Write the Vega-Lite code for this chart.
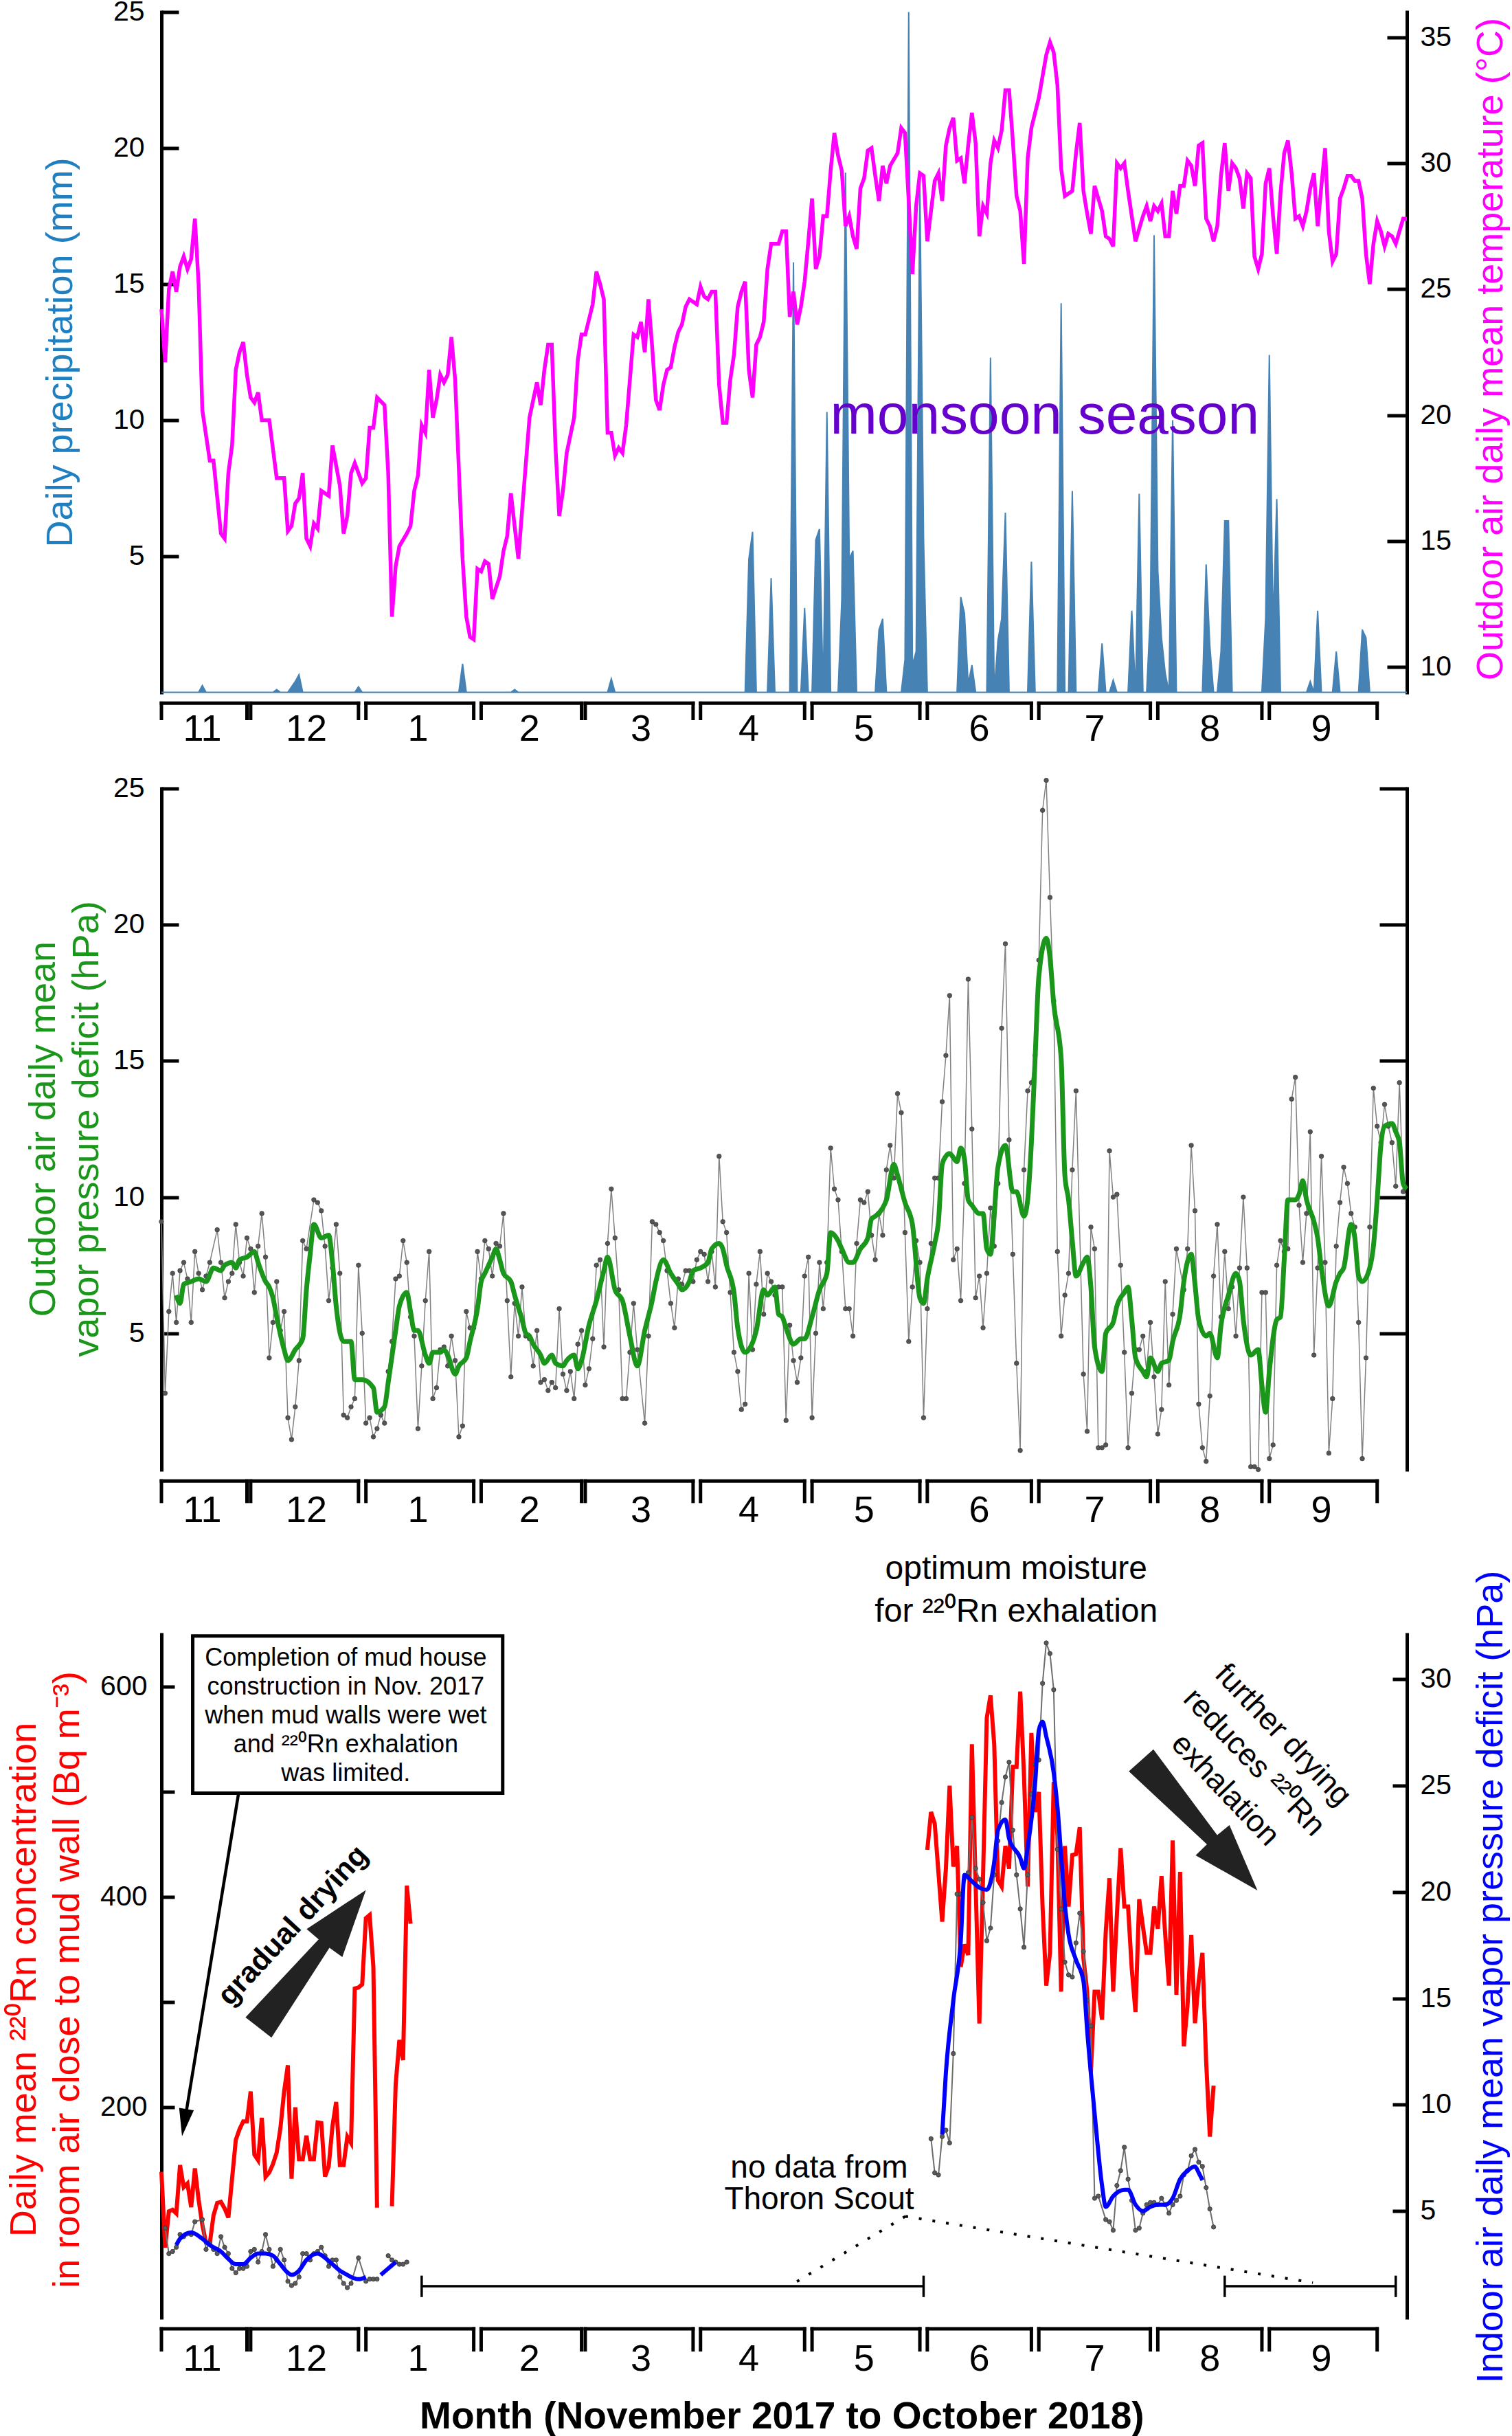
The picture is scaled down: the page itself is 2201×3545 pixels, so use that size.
{
  "$schema": "https://vega.github.io/schema/vega-lite/v6.json",
  "autosize": {"type": "none"},
  "padding": {"left": 235, "top": 17.5, "right": 1966, "bottom": 3527.5},
  "background": "white",
  "usermeta": {"embedOptions": {"actions": false}},
  "config": {
    "font": "Liberation Sans",
    "view": {"stroke": null},
    "axis": {
      "grid": false, "domainColor": "black", "domainWidth": 5, "domainCap": "square",
      "tickColor": "black", "tickWidth": 5,
      "labelFont": "Liberation Sans", "labelFontSize": 41, "labelColor": "black",
      "titleFont": "Liberation Sans", "titleFontSize": 54, "titleFontWeight": "normal"
    }
  },
  "datasets": {
    "months": [
      {"m": "11", "start": "2017-11-07", "end": "2017-11-30", "mid": "2017-11-18"},
      {"m": "12", "start": "2017-12-01", "end": "2017-12-30", "mid": "2017-12-16"},
      {"m": "1", "start": "2018-01-01", "end": "2018-01-30", "mid": "2018-01-15"},
      {"m": "2", "start": "2018-02-01", "end": "2018-02-28", "mid": "2018-02-14"},
      {"m": "3", "start": "2018-03-01", "end": "2018-03-30", "mid": "2018-03-16"},
      {"m": "4", "start": "2018-04-01", "end": "2018-04-29", "mid": "2018-04-14"},
      {"m": "5", "start": "2018-05-01", "end": "2018-05-30", "mid": "2018-05-15"},
      {"m": "6", "start": "2018-06-01", "end": "2018-06-29", "mid": "2018-06-15"},
      {"m": "7", "start": "2018-07-01", "end": "2018-07-31", "mid": "2018-07-16"},
      {"m": "8", "start": "2018-08-02", "end": "2018-08-30", "mid": "2018-08-16"},
      {"m": "9", "start": "2018-09-01", "end": "2018-09-30", "mid": "2018-09-15"}
    ],
    "nodata": [
      {"from": "2018-01-16", "to": "2018-05-31"},
      {"from": "2018-08-20", "to": "2018-10-05"}
    ],
    "precip": [
      {"date":"2017-11-07","precip":0},{"date":"2017-11-17","precip":0},{"date":"2017-11-18","precip":0.25},{"date":"2017-11-19","precip":0},
      {"date":"2017-12-07","precip":0},{"date":"2017-12-08","precip":0.1},{"date":"2017-12-09","precip":0},
      {"date":"2017-12-11","precip":0},{"date":"2017-12-13","precip":0.4},{"date":"2017-12-14","precip":0.65},{"date":"2017-12-15","precip":0},
      {"date":"2017-12-29","precip":0},{"date":"2017-12-30","precip":0.2},{"date":"2017-12-31","precip":0},
      {"date":"2018-01-26","precip":0},{"date":"2018-01-27","precip":1.05},{"date":"2018-01-28","precip":0},
      {"date":"2018-02-09","precip":0},{"date":"2018-02-10","precip":0.1},{"date":"2018-02-11","precip":0},
      {"date":"2018-03-07","precip":0},{"date":"2018-03-08","precip":0.5},{"date":"2018-03-09","precip":0},
      {"date":"2018-04-13","precip":0},{"date":"2018-04-14","precip":4.9},{"date":"2018-04-15","precip":5.9},{"date":"2018-04-16","precip":0},
      {"date":"2018-04-19","precip":0},{"date":"2018-04-20","precip":4.2},{"date":"2018-04-21","precip":0},
      {"date":"2018-04-25","precip":0},{"date":"2018-04-26","precip":15.8},{"date":"2018-04-27","precip":0},
      {"date":"2018-04-28","precip":0},{"date":"2018-04-29","precip":3.1},{"date":"2018-04-30","precip":0},
      {"date":"2018-05-01","precip":0},{"date":"2018-05-02","precip":5.6},{"date":"2018-05-03","precip":6.0},{"date":"2018-05-04","precip":0},
      {"date":"2018-05-05","precip":10.3},{"date":"2018-05-06","precip":0},
      {"date":"2018-05-08","precip":0},{"date":"2018-05-09","precip":3.4},{"date":"2018-05-10","precip":19.1},{"date":"2018-05-11","precip":4.9},{"date":"2018-05-12","precip":5.2},{"date":"2018-05-13","precip":0},
      {"date":"2018-05-18","precip":0},{"date":"2018-05-19","precip":2.3},{"date":"2018-05-20","precip":2.7},{"date":"2018-05-21","precip":0},
      {"date":"2018-05-25","precip":0},{"date":"2018-05-26","precip":1.2},{"date":"2018-05-27","precip":25},{"date":"2018-05-28","precip":1.0},{"date":"2018-05-29","precip":1.5},{"date":"2018-05-30","precip":18.7},{"date":"2018-05-31","precip":5.6},{"date":"2018-06-01","precip":0},
      {"date":"2018-06-09","precip":0},{"date":"2018-06-10","precip":3.5},{"date":"2018-06-11","precip":2.9},{"date":"2018-06-12","precip":0.3},{"date":"2018-06-13","precip":1.0},{"date":"2018-06-14","precip":0},
      {"date":"2018-06-17","precip":0},{"date":"2018-06-18","precip":12.3},{"date":"2018-06-19","precip":0},{"date":"2018-06-20","precip":1.9},{"date":"2018-06-21","precip":2.7},{"date":"2018-06-22","precip":6.6},{"date":"2018-06-23","precip":0},
      {"date":"2018-06-28","precip":0},{"date":"2018-06-29","precip":4.8},{"date":"2018-06-30","precip":0},
      {"date":"2018-07-06","precip":0},{"date":"2018-07-07","precip":14.3},{"date":"2018-07-08","precip":0},{"date":"2018-07-09","precip":0},{"date":"2018-07-10","precip":7.4},{"date":"2018-07-11","precip":0},
      {"date":"2018-07-17","precip":0},{"date":"2018-07-18","precip":1.8},{"date":"2018-07-19","precip":0},
      {"date":"2018-07-20","precip":0},{"date":"2018-07-21","precip":0.45},{"date":"2018-07-22","precip":0},
      {"date":"2018-07-25","precip":0},{"date":"2018-07-26","precip":3.0},{"date":"2018-07-27","precip":0},{"date":"2018-07-28","precip":7.3},{"date":"2018-07-29","precip":0},
      {"date":"2018-07-30","precip":0},{"date":"2018-07-31","precip":2.9},{"date":"2018-08-01","precip":16.8},{"date":"2018-08-02","precip":4.5},{"date":"2018-08-03","precip":2.0},{"date":"2018-08-04","precip":0.7},{"date":"2018-08-05","precip":0},{"date":"2018-08-06","precip":10.0},{"date":"2018-08-07","precip":0},
      {"date":"2018-08-14","precip":0},{"date":"2018-08-15","precip":4.7},{"date":"2018-08-16","precip":1.7},{"date":"2018-08-17","precip":0},
      {"date":"2018-08-18","precip":0},{"date":"2018-08-19","precip":1.5},{"date":"2018-08-20","precip":6.3},{"date":"2018-08-21","precip":6.3},{"date":"2018-08-22","precip":0},
      {"date":"2018-08-30","precip":0},{"date":"2018-08-31","precip":2.7},{"date":"2018-09-01","precip":12.4},{"date":"2018-09-02","precip":2.4},{"date":"2018-09-03","precip":7.1},{"date":"2018-09-04","precip":0},
      {"date":"2018-09-11","precip":0},{"date":"2018-09-12","precip":0.4},{"date":"2018-09-13","precip":0},{"date":"2018-09-14","precip":3.0},{"date":"2018-09-15","precip":0},
      {"date":"2018-09-18","precip":0},{"date":"2018-09-19","precip":1.5},{"date":"2018-09-20","precip":0},
      {"date":"2018-09-25","precip":0},{"date":"2018-09-26","precip":2.3},{"date":"2018-09-27","precip":2.0},{"date":"2018-09-28","precip":0},
      {"date":"2018-10-08","precip":0}
    ],
    "temp": [
      {"date":"2017-11-07","temp":24.2},{"date":"2017-11-08","temp":22.1},{"date":"2017-11-09","temp":25.0},{"date":"2017-11-10","temp":25.7},{"date":"2017-11-11","temp":24.9},{"date":"2017-11-12","temp":25.9},{"date":"2017-11-13","temp":26.3},{"date":"2017-11-14","temp":25.8},{"date":"2017-11-15","temp":26.2},{"date":"2017-11-16","temp":27.8},{"date":"2017-11-17","temp":25.2},{"date":"2017-11-18","temp":20.2},{"date":"2017-11-20","temp":18.2},{"date":"2017-11-21","temp":18.2},{"date":"2017-11-23","temp":15.3},{"date":"2017-11-24","temp":15.1},{"date":"2017-11-25","temp":17.7},{"date":"2017-11-26","temp":18.8},{"date":"2017-11-27","temp":21.8},{"date":"2017-11-28","temp":22.5},{"date":"2017-11-29","temp":22.9},{"date":"2017-11-30","temp":21.6},
      {"date":"2017-12-01","temp":20.7},{"date":"2017-12-02","temp":20.5},{"date":"2017-12-03","temp":20.9},{"date":"2017-12-04","temp":19.8},{"date":"2017-12-06","temp":19.8},{"date":"2017-12-08","temp":17.5},{"date":"2017-12-10","temp":17.5},{"date":"2017-12-11","temp":15.4},{"date":"2017-12-12","temp":15.6},{"date":"2017-12-13","temp":16.5},{"date":"2017-12-14","temp":16.7},{"date":"2017-12-15","temp":17.7},{"date":"2017-12-16","temp":15.1},{"date":"2017-12-17","temp":14.8},{"date":"2017-12-18","temp":15.7},{"date":"2017-12-19","temp":15.5},{"date":"2017-12-20","temp":17.0},{"date":"2017-12-22","temp":16.8},{"date":"2017-12-23","temp":18.8},{"date":"2017-12-25","temp":17.2},{"date":"2017-12-26","temp":15.3},{"date":"2017-12-27","temp":16.0},{"date":"2017-12-28","temp":17.7},{"date":"2017-12-29","temp":18.1},{"date":"2017-12-31","temp":17.3},
      {"date":"2018-01-01","temp":17.5},{"date":"2018-01-02","temp":19.5},{"date":"2018-01-03","temp":19.5},{"date":"2018-01-04","temp":20.7},{"date":"2018-01-06","temp":20.4},{"date":"2018-01-07","temp":17.7},{"date":"2018-01-08","temp":12.0},{"date":"2018-01-09","temp":14.0},{"date":"2018-01-10","temp":14.8},{"date":"2018-01-12","temp":15.3},{"date":"2018-01-13","temp":15.6},{"date":"2018-01-14","temp":17.0},{"date":"2018-01-15","temp":17.6},{"date":"2018-01-16","temp":19.6},{"date":"2018-01-17","temp":19.3},{"date":"2018-01-18","temp":21.8},{"date":"2018-01-19","temp":19.9},{"date":"2018-01-20","temp":20.6},{"date":"2018-01-21","temp":21.6},{"date":"2018-01-22","temp":21.3},{"date":"2018-01-23","temp":21.6},{"date":"2018-01-24","temp":23.1},{"date":"2018-01-25","temp":21.4},{"date":"2018-01-27","temp":14.3},{"date":"2018-01-28","temp":12.0},{"date":"2018-01-29","temp":11.2},{"date":"2018-01-30","temp":11.1},{"date":"2018-01-31","temp":13.9},
      {"date":"2018-02-01","temp":13.8},{"date":"2018-02-02","temp":14.2},{"date":"2018-02-03","temp":14.1},{"date":"2018-02-04","temp":12.7},{"date":"2018-02-06","temp":13.6},{"date":"2018-02-07","temp":14.6},{"date":"2018-02-08","temp":15.2},{"date":"2018-02-09","temp":16.9},{"date":"2018-02-11","temp":14.3},{"date":"2018-02-12","temp":16.2},{"date":"2018-02-14","temp":19.9},{"date":"2018-02-15","temp":20.6},{"date":"2018-02-16","temp":21.3},{"date":"2018-02-17","temp":20.4},{"date":"2018-02-18","temp":21.8},{"date":"2018-02-19","temp":22.8},{"date":"2018-02-20","temp":22.8},{"date":"2018-02-21","temp":18.7},{"date":"2018-02-22","temp":16.0},{"date":"2018-02-23","temp":17.0},{"date":"2018-02-24","temp":18.5},{"date":"2018-02-25","temp":19.2},{"date":"2018-02-26","temp":19.9},{"date":"2018-02-27","temp":22.2},{"date":"2018-02-28","temp":23.2},
      {"date":"2018-03-01","temp":23.2},{"date":"2018-03-03","temp":24.4},{"date":"2018-03-04","temp":25.7},{"date":"2018-03-05","temp":25.2},{"date":"2018-03-06","temp":24.6},{"date":"2018-03-07","temp":19.3},{"date":"2018-03-08","temp":19.3},{"date":"2018-03-09","temp":18.4},{"date":"2018-03-10","temp":18.7},{"date":"2018-03-11","temp":18.5},{"date":"2018-03-12","temp":19.6},{"date":"2018-03-14","temp":23.2},{"date":"2018-03-15","temp":23.1},{"date":"2018-03-16","temp":23.7},{"date":"2018-03-17","temp":22.5},{"date":"2018-03-18","temp":24.6},{"date":"2018-03-19","temp":22.7},{"date":"2018-03-20","temp":20.6},{"date":"2018-03-21","temp":20.2},{"date":"2018-03-22","temp":21.2},{"date":"2018-03-23","temp":21.8},{"date":"2018-03-24","temp":21.9},{"date":"2018-03-25","temp":22.7},{"date":"2018-03-26","temp":23.3},{"date":"2018-03-27","temp":23.6},{"date":"2018-03-28","temp":24.3},{"date":"2018-03-29","temp":24.6},{"date":"2018-03-31","temp":24.4},
      {"date":"2018-04-01","temp":25.1},{"date":"2018-04-02","temp":24.7},{"date":"2018-04-03","temp":24.6},{"date":"2018-04-04","temp":24.9},{"date":"2018-04-05","temp":24.9},{"date":"2018-04-06","temp":21.2},{"date":"2018-04-07","temp":19.7},{"date":"2018-04-08","temp":19.7},{"date":"2018-04-09","temp":21.4},{"date":"2018-04-10","temp":22.4},{"date":"2018-04-11","temp":24.3},{"date":"2018-04-12","temp":24.9},{"date":"2018-04-13","temp":25.3},{"date":"2018-04-14","temp":21.8},{"date":"2018-04-15","temp":20.7},{"date":"2018-04-16","temp":22.8},{"date":"2018-04-17","temp":23.1},{"date":"2018-04-18","temp":23.7},{"date":"2018-04-19","temp":25.8},{"date":"2018-04-20","temp":26.8},{"date":"2018-04-22","temp":26.8},{"date":"2018-04-23","temp":27.3},{"date":"2018-04-24","temp":27.3},{"date":"2018-04-25","temp":23.9},{"date":"2018-04-26","temp":24.9},{"date":"2018-04-27","temp":23.6},{"date":"2018-04-28","temp":24.3},{"date":"2018-04-29","temp":25.3},{"date":"2018-04-30","temp":26.9},
      {"date":"2018-05-01","temp":28.6},{"date":"2018-05-02","temp":25.8},{"date":"2018-05-03","temp":26.3},{"date":"2018-05-04","temp":27.9},{"date":"2018-05-05","temp":27.9},{"date":"2018-05-06","temp":29.7},{"date":"2018-05-07","temp":31.2},{"date":"2018-05-08","temp":30.3},{"date":"2018-05-09","temp":29.7},{"date":"2018-05-10","temp":27.5},{"date":"2018-05-11","temp":27.9},{"date":"2018-05-12","temp":27.1},{"date":"2018-05-13","temp":26.6},{"date":"2018-05-14","temp":29.0},{"date":"2018-05-15","temp":29.4},{"date":"2018-05-16","temp":30.5},{"date":"2018-05-17","temp":30.6},{"date":"2018-05-18","temp":29.5},{"date":"2018-05-19","temp":28.5},{"date":"2018-05-20","temp":29.9},{"date":"2018-05-21","temp":29.2},{"date":"2018-05-22","temp":29.9},{"date":"2018-05-24","temp":30.4},{"date":"2018-05-25","temp":31.4},{"date":"2018-05-26","temp":31.2},{"date":"2018-05-27","temp":28.5},{"date":"2018-05-28","temp":25.6},{"date":"2018-05-29","temp":28.3},{"date":"2018-05-30","temp":29.6},{"date":"2018-05-31","temp":29.5},
      {"date":"2018-06-01","temp":26.9},{"date":"2018-06-02","temp":28.1},{"date":"2018-06-03","temp":29.3},{"date":"2018-06-04","temp":29.6},{"date":"2018-06-05","temp":28.5},{"date":"2018-06-06","temp":30.7},{"date":"2018-06-07","temp":31.4},{"date":"2018-06-08","temp":31.8},{"date":"2018-06-09","temp":30.1},{"date":"2018-06-10","temp":30.2},{"date":"2018-06-11","temp":29.2},{"date":"2018-06-12","temp":30.7},{"date":"2018-06-13","temp":32.0},{"date":"2018-06-14","temp":30.8},{"date":"2018-06-15","temp":27.1},{"date":"2018-06-16","temp":28.3},{"date":"2018-06-17","temp":28.0},{"date":"2018-06-18","temp":30.0},{"date":"2018-06-19","temp":30.9},{"date":"2018-06-20","temp":30.6},{"date":"2018-06-21","temp":31.3},{"date":"2018-06-22","temp":32.9},{"date":"2018-06-23","temp":32.9},{"date":"2018-06-24","temp":30.9},{"date":"2018-06-25","temp":28.7},{"date":"2018-06-26","temp":28.1},{"date":"2018-06-27","temp":26.0},{"date":"2018-06-28","temp":30.2},{"date":"2018-06-29","temp":31.4},
      {"date":"2018-07-01","temp":32.6},{"date":"2018-07-03","temp":34.3},{"date":"2018-07-04","temp":34.8},{"date":"2018-07-05","temp":34.4},{"date":"2018-07-06","temp":33.1},{"date":"2018-07-07","temp":29.8},{"date":"2018-07-08","temp":28.7},{"date":"2018-07-10","temp":28.9},{"date":"2018-07-11","temp":30.4},{"date":"2018-07-12","temp":31.6},{"date":"2018-07-13","temp":28.9},{"date":"2018-07-14","temp":28.0},{"date":"2018-07-15","temp":27.2},{"date":"2018-07-16","temp":29.1},{"date":"2018-07-17","temp":28.6},{"date":"2018-07-18","temp":28.1},{"date":"2018-07-19","temp":27.1},{"date":"2018-07-20","temp":27.0},{"date":"2018-07-21","temp":26.7},{"date":"2018-07-22","temp":30.0},{"date":"2018-07-23","temp":29.8},{"date":"2018-07-24","temp":30.0},{"date":"2018-07-25","temp":28.9},{"date":"2018-07-26","temp":27.9},{"date":"2018-07-27","temp":26.9},{"date":"2018-07-28","temp":27.4},{"date":"2018-07-29","temp":27.9},{"date":"2018-07-30","temp":28.3},{"date":"2018-07-31","temp":27.7},
      {"date":"2018-08-01","temp":28.3},{"date":"2018-08-02","temp":28.1},{"date":"2018-08-03","temp":28.4},{"date":"2018-08-04","temp":27.1},{"date":"2018-08-05","temp":27.1},{"date":"2018-08-06","temp":28.9},{"date":"2018-08-07","temp":28.0},{"date":"2018-08-08","temp":29.1},{"date":"2018-08-09","temp":29.1},{"date":"2018-08-10","temp":30.1},{"date":"2018-08-11","temp":29.9},{"date":"2018-08-12","temp":29.1},{"date":"2018-08-13","temp":30.7},{"date":"2018-08-14","temp":30.8},{"date":"2018-08-15","temp":27.8},{"date":"2018-08-16","temp":27.5},{"date":"2018-08-17","temp":26.9},{"date":"2018-08-18","temp":27.5},{"date":"2018-08-19","temp":29.5},{"date":"2018-08-20","temp":30.8},{"date":"2018-08-21","temp":28.9},{"date":"2018-08-22","temp":30.0},{"date":"2018-08-23","temp":29.8},{"date":"2018-08-24","temp":29.4},{"date":"2018-08-25","temp":28.2},{"date":"2018-08-26","temp":29.6},{"date":"2018-08-27","temp":29.4},{"date":"2018-08-28","temp":26.3},{"date":"2018-08-29","temp":25.8},{"date":"2018-08-30","temp":26.4},{"date":"2018-08-31","temp":29.2},
      {"date":"2018-09-01","temp":29.8},{"date":"2018-09-02","temp":27.9},{"date":"2018-09-03","temp":26.4},{"date":"2018-09-04","temp":28.8},{"date":"2018-09-05","temp":30.4},{"date":"2018-09-06","temp":30.9},{"date":"2018-09-07","temp":29.6},{"date":"2018-09-08","temp":27.8},{"date":"2018-09-09","temp":27.9},{"date":"2018-09-10","temp":27.5},{"date":"2018-09-11","temp":28.1},{"date":"2018-09-12","temp":29.0},{"date":"2018-09-13","temp":29.6},{"date":"2018-09-14","temp":27.5},{"date":"2018-09-15","temp":29.1},{"date":"2018-09-16","temp":30.6},{"date":"2018-09-17","temp":27.3},{"date":"2018-09-18","temp":26.1},{"date":"2018-09-19","temp":26.4},{"date":"2018-09-20","temp":28.6},{"date":"2018-09-21","temp":29.0},{"date":"2018-09-22","temp":29.5},{"date":"2018-09-23","temp":29.5},{"date":"2018-09-24","temp":29.3},{"date":"2018-09-25","temp":29.3},{"date":"2018-09-26","temp":28.6},{"date":"2018-09-27","temp":26.4},{"date":"2018-09-28","temp":25.2},{"date":"2018-09-29","temp":26.8},{"date":"2018-09-30","temp":27.7},
      {"date":"2018-10-01","temp":27.3},{"date":"2018-10-02","temp":26.7},{"date":"2018-10-03","temp":27.2},{"date":"2018-10-04","temp":27.1},{"date":"2018-10-05","temp":26.8},{"date":"2018-10-06","temp":27.3},{"date":"2018-10-07","temp":27.8},{"date":"2018-10-08","temp":27.8}
    ],
    "vpdOut": [
      {"date":"2017-11-07","vpd":9.1},{"date":"2017-11-08","vpd":2.8},{"date":"2017-11-09","vpd":5.8},{"date":"2017-11-10","vpd":7.2},{"date":"2017-11-11","vpd":5.4},{"date":"2017-11-12","vpd":7.3},{"date":"2017-11-13","vpd":7.6},{"date":"2017-11-14","vpd":7.0},{"date":"2017-11-15","vpd":5.4},{"date":"2017-11-16","vpd":8.0},{"date":"2017-11-17","vpd":7.2},{"date":"2017-11-18","vpd":6.6},{"date":"2017-11-19","vpd":7.1},{"date":"2017-11-20","vpd":7.6},{"date":"2017-11-22","vpd":8.8},{"date":"2017-11-23","vpd":7.6},{"date":"2017-11-24","vpd":6.3},{"date":"2017-11-25","vpd":6.9},{"date":"2017-11-26","vpd":7.2},{"date":"2017-11-27","vpd":9.0},{"date":"2017-11-28","vpd":7.6},{"date":"2017-11-29","vpd":7.1},{"date":"2017-11-30","vpd":8.5},
      {"date":"2017-12-01","vpd":8.1},{"date":"2017-12-02","vpd":6.5},{"date":"2017-12-03","vpd":8.2},{"date":"2017-12-04","vpd":9.4},{"date":"2017-12-05","vpd":7.8},{"date":"2017-12-06","vpd":4.1},{"date":"2017-12-07","vpd":5.4},{"date":"2017-12-08","vpd":6.9},{"date":"2017-12-09","vpd":5.1},{"date":"2017-12-10","vpd":5.8},{"date":"2017-12-11","vpd":1.9},{"date":"2017-12-12","vpd":1.1},{"date":"2017-12-13","vpd":2.3},{"date":"2017-12-14","vpd":4.0},{"date":"2017-12-15","vpd":8.4},{"date":"2017-12-16","vpd":8.1},{"date":"2017-12-18","vpd":9.9},{"date":"2017-12-19","vpd":9.8},{"date":"2017-12-20","vpd":9.5},{"date":"2017-12-21","vpd":8.2},{"date":"2017-12-22","vpd":6.2},{"date":"2017-12-23","vpd":7.4},{"date":"2017-12-24","vpd":9.0},{"date":"2017-12-25","vpd":7.2},{"date":"2017-12-26","vpd":2.0},{"date":"2017-12-27","vpd":1.9},{"date":"2017-12-28","vpd":2.3},{"date":"2017-12-29","vpd":2.6},{"date":"2017-12-30","vpd":7.5},{"date":"2017-12-31","vpd":5.0},
      {"date":"2018-01-01","vpd":1.7},{"date":"2018-01-02","vpd":1.9},{"date":"2018-01-03","vpd":1.2},{"date":"2018-01-04","vpd":1.5},{"date":"2018-01-05","vpd":2.0},{"date":"2018-01-06","vpd":1.7},{"date":"2018-01-07","vpd":3.6},{"date":"2018-01-08","vpd":4.7},{"date":"2018-01-09","vpd":7.0},{"date":"2018-01-10","vpd":7.1},{"date":"2018-01-11","vpd":8.4},{"date":"2018-01-12","vpd":7.6},{"date":"2018-01-13","vpd":5.6},{"date":"2018-01-14","vpd":4.9},{"date":"2018-01-15","vpd":1.5},{"date":"2018-01-16","vpd":3.8},{"date":"2018-01-17","vpd":6.2},{"date":"2018-01-18","vpd":8.0},{"date":"2018-01-19","vpd":2.6},{"date":"2018-01-20","vpd":3.0},{"date":"2018-01-21","vpd":4.4},{"date":"2018-01-22","vpd":4.5},{"date":"2018-01-23","vpd":3.8},{"date":"2018-01-24","vpd":4.9},{"date":"2018-01-25","vpd":4.0},{"date":"2018-01-26","vpd":1.2},{"date":"2018-01-27","vpd":1.6},{"date":"2018-01-28","vpd":5.8},{"date":"2018-01-29","vpd":5.2},{"date":"2018-01-30","vpd":5.2},{"date":"2018-01-31","vpd":8.0},
      {"date":"2018-02-01","vpd":7.0},{"date":"2018-02-02","vpd":8.4},{"date":"2018-02-03","vpd":8.1},{"date":"2018-02-04","vpd":7.1},{"date":"2018-02-05","vpd":8.3},{"date":"2018-02-06","vpd":8.2},{"date":"2018-02-07","vpd":9.4},{"date":"2018-02-08","vpd":6.2},{"date":"2018-02-09","vpd":3.4},{"date":"2018-02-10","vpd":6.1},{"date":"2018-02-11","vpd":4.9},{"date":"2018-02-12","vpd":6.7},{"date":"2018-02-13","vpd":4.9},{"date":"2018-02-14","vpd":4.8},{"date":"2018-02-15","vpd":3.8},{"date":"2018-02-16","vpd":5.1},{"date":"2018-02-17","vpd":3.2},{"date":"2018-02-18","vpd":3.3},{"date":"2018-02-19","vpd":2.9},{"date":"2018-02-20","vpd":3.2},{"date":"2018-02-21","vpd":3.0},{"date":"2018-02-22","vpd":5.9},{"date":"2018-02-23","vpd":3.5},{"date":"2018-02-24","vpd":2.9},{"date":"2018-02-25","vpd":3.6},{"date":"2018-02-26","vpd":2.6},{"date":"2018-02-27","vpd":4.6},{"date":"2018-02-28","vpd":5.1},
      {"date":"2018-03-01","vpd":3.1},{"date":"2018-03-02","vpd":3.7},{"date":"2018-03-03","vpd":4.8},{"date":"2018-03-04","vpd":7.5},{"date":"2018-03-05","vpd":7.7},{"date":"2018-03-06","vpd":4.5},{"date":"2018-03-07","vpd":8.3},{"date":"2018-03-08","vpd":10.3},{"date":"2018-03-09","vpd":8.5},{"date":"2018-03-10","vpd":6.6},{"date":"2018-03-11","vpd":2.6},{"date":"2018-03-12","vpd":2.6},{"date":"2018-03-13","vpd":4.3},{"date":"2018-03-14","vpd":6.1},{"date":"2018-03-15","vpd":4.4},{"date":"2018-03-17","vpd":1.7},{"date":"2018-03-18","vpd":4.9},{"date":"2018-03-19","vpd":9.1},{"date":"2018-03-20","vpd":9.0},{"date":"2018-03-21","vpd":8.7},{"date":"2018-03-22","vpd":8.4},{"date":"2018-03-23","vpd":7.3},{"date":"2018-03-24","vpd":6.1},{"date":"2018-03-25","vpd":5.2},{"date":"2018-03-26","vpd":7.0},{"date":"2018-03-27","vpd":6.8},{"date":"2018-03-28","vpd":7.3},{"date":"2018-03-29","vpd":7.3},{"date":"2018-03-30","vpd":6.9},{"date":"2018-03-31","vpd":7.7},
      {"date":"2018-04-01","vpd":8.0},{"date":"2018-04-02","vpd":7.9},{"date":"2018-04-03","vpd":6.9},{"date":"2018-04-04","vpd":8.0},{"date":"2018-04-05","vpd":6.7},{"date":"2018-04-06","vpd":11.5},{"date":"2018-04-07","vpd":9.1},{"date":"2018-04-08","vpd":8.7},{"date":"2018-04-09","vpd":6.5},{"date":"2018-04-10","vpd":4.3},{"date":"2018-04-11","vpd":3.6},{"date":"2018-04-12","vpd":2.2},{"date":"2018-04-13","vpd":2.4},{"date":"2018-04-14","vpd":7.2},{"date":"2018-04-15","vpd":4.4},{"date":"2018-04-16","vpd":6.8},{"date":"2018-04-17","vpd":8.0},{"date":"2018-04-18","vpd":5.7},{"date":"2018-04-19","vpd":7.2},{"date":"2018-04-20","vpd":6.9},{"date":"2018-04-21","vpd":6.4},{"date":"2018-04-22","vpd":6.7},{"date":"2018-04-23","vpd":6.7},{"date":"2018-04-24","vpd":1.8},{"date":"2018-04-25","vpd":5.3},{"date":"2018-04-26","vpd":4.0},{"date":"2018-04-27","vpd":3.2},{"date":"2018-04-28","vpd":4.1},{"date":"2018-04-29","vpd":7.1},{"date":"2018-04-30","vpd":7.8},
      {"date":"2018-05-01","vpd":1.9},{"date":"2018-05-02","vpd":5.0},{"date":"2018-05-03","vpd":7.6},{"date":"2018-05-04","vpd":5.9},{"date":"2018-05-05","vpd":7.6},{"date":"2018-05-06","vpd":11.8},{"date":"2018-05-07","vpd":10.3},{"date":"2018-05-08","vpd":9.9},{"date":"2018-05-09","vpd":8.0},{"date":"2018-05-10","vpd":5.9},{"date":"2018-05-11","vpd":5.9},{"date":"2018-05-12","vpd":4.9},{"date":"2018-05-13","vpd":8.3},{"date":"2018-05-14","vpd":9.9},{"date":"2018-05-15","vpd":9.8},{"date":"2018-05-16","vpd":10.2},{"date":"2018-05-17","vpd":8.6},{"date":"2018-05-18","vpd":7.7},{"date":"2018-05-19","vpd":9.4},{"date":"2018-05-20","vpd":8.6},{"date":"2018-05-21","vpd":11.0},{"date":"2018-05-22","vpd":11.9},{"date":"2018-05-23","vpd":10.7},{"date":"2018-05-24","vpd":13.8},{"date":"2018-05-25","vpd":13.1},{"date":"2018-05-26","vpd":8.7},{"date":"2018-05-27","vpd":4.7},{"date":"2018-05-28","vpd":6.7},{"date":"2018-05-29","vpd":8.4},{"date":"2018-05-30","vpd":7.6},{"date":"2018-05-31","vpd":1.9},
      {"date":"2018-06-01","vpd":5.9},{"date":"2018-06-02","vpd":8.3},{"date":"2018-06-03","vpd":10.7},{"date":"2018-06-04","vpd":10.7},{"date":"2018-06-05","vpd":13.5},{"date":"2018-06-06","vpd":15.2},{"date":"2018-06-07","vpd":17.4},{"date":"2018-06-08","vpd":7.7},{"date":"2018-06-09","vpd":8.1},{"date":"2018-06-10","vpd":6.2},{"date":"2018-06-11","vpd":10.5},{"date":"2018-06-12","vpd":18.0},{"date":"2018-06-13","vpd":12.5},{"date":"2018-06-14","vpd":6.3},{"date":"2018-06-15","vpd":7.1},{"date":"2018-06-16","vpd":5.2},{"date":"2018-06-17","vpd":7.2},{"date":"2018-06-18","vpd":9.6},{"date":"2018-06-19","vpd":8.2},{"date":"2018-06-20","vpd":10.5},{"date":"2018-06-21","vpd":16.2},{"date":"2018-06-22","vpd":19.3},{"date":"2018-06-23","vpd":12.1},{"date":"2018-06-24","vpd":7.9},{"date":"2018-06-25","vpd":3.9},{"date":"2018-06-26","vpd":0.7},{"date":"2018-06-27","vpd":11.0},{"date":"2018-06-28","vpd":13.9},{"date":"2018-06-29","vpd":14.2},{"date":"2018-06-30","vpd":15.2},
      {"date":"2018-07-01","vpd":18.7},{"date":"2018-07-02","vpd":24.2},{"date":"2018-07-03","vpd":25.3},{"date":"2018-07-04","vpd":21.0},{"date":"2018-07-05","vpd":17.2},{"date":"2018-07-06","vpd":8.0},{"date":"2018-07-07","vpd":4.9},{"date":"2018-07-08","vpd":6.4},{"date":"2018-07-09","vpd":7.2},{"date":"2018-07-10","vpd":11.0},{"date":"2018-07-11","vpd":13.9},{"date":"2018-07-13","vpd":3.5},{"date":"2018-07-14","vpd":1.4},{"date":"2018-07-15","vpd":8.9},{"date":"2018-07-16","vpd":8.1},{"date":"2018-07-17","vpd":0.8},{"date":"2018-07-18","vpd":0.8},{"date":"2018-07-19","vpd":0.9},{"date":"2018-07-20","vpd":11.7},{"date":"2018-07-21","vpd":10.0},{"date":"2018-07-22","vpd":10.1},{"date":"2018-07-23","vpd":7.5},{"date":"2018-07-24","vpd":4.3},{"date":"2018-07-25","vpd":0.8},{"date":"2018-07-26","vpd":2.8},{"date":"2018-07-27","vpd":4.4},{"date":"2018-07-28","vpd":4.4},{"date":"2018-07-29","vpd":4.9},{"date":"2018-07-30","vpd":3.6},{"date":"2018-07-31","vpd":5.4},
      {"date":"2018-08-01","vpd":3.4},{"date":"2018-08-02","vpd":1.3},{"date":"2018-08-03","vpd":2.2},{"date":"2018-08-04","vpd":6.9},{"date":"2018-08-05","vpd":3.1},{"date":"2018-08-06","vpd":5.7},{"date":"2018-08-07","vpd":8.1},{"date":"2018-08-09","vpd":6.6},{"date":"2018-08-10","vpd":8.1},{"date":"2018-08-11","vpd":11.9},{"date":"2018-08-12","vpd":9.5},{"date":"2018-08-13","vpd":2.4},{"date":"2018-08-14","vpd":0.8},{"date":"2018-08-15","vpd":0.3},{"date":"2018-08-16","vpd":2.7},{"date":"2018-08-17","vpd":7.1},{"date":"2018-08-18","vpd":9.0},{"date":"2018-08-19","vpd":5.6},{"date":"2018-08-20","vpd":8.0},{"date":"2018-08-21","vpd":5.9},{"date":"2018-08-22","vpd":6.7},{"date":"2018-08-23","vpd":4.9},{"date":"2018-08-24","vpd":7.4},{"date":"2018-08-25","vpd":10.0},{"date":"2018-08-26","vpd":7.4},{"date":"2018-08-27","vpd":0.1},{"date":"2018-08-28","vpd":0.1},{"date":"2018-08-29","vpd":0.0},{"date":"2018-08-30","vpd":6.5},{"date":"2018-08-31","vpd":6.5},
      {"date":"2018-09-01","vpd":0.4},{"date":"2018-09-02","vpd":0.9},{"date":"2018-09-03","vpd":7.5},{"date":"2018-09-04","vpd":8.4},{"date":"2018-09-05","vpd":8.0},{"date":"2018-09-06","vpd":8.1},{"date":"2018-09-07","vpd":13.6},{"date":"2018-09-08","vpd":14.4},{"date":"2018-09-09","vpd":9.7},{"date":"2018-09-10","vpd":7.6},{"date":"2018-09-11","vpd":9.4},{"date":"2018-09-12","vpd":12.4},{"date":"2018-09-13","vpd":4.2},{"date":"2018-09-14","vpd":7.4},{"date":"2018-09-15","vpd":11.5},{"date":"2018-09-16","vpd":7.6},{"date":"2018-09-17","vpd":0.6},{"date":"2018-09-18","vpd":2.6},{"date":"2018-09-19","vpd":8.2},{"date":"2018-09-20","vpd":9.8},{"date":"2018-09-21","vpd":11.1},{"date":"2018-09-22","vpd":10.5},{"date":"2018-09-23","vpd":9.4},{"date":"2018-09-24","vpd":8.9},{"date":"2018-09-25","vpd":5.4},{"date":"2018-09-26","vpd":0.4},{"date":"2018-09-27","vpd":4.1},{"date":"2018-09-28","vpd":8.9},{"date":"2018-09-29","vpd":14.0},{"date":"2018-09-30","vpd":12.6},
      {"date":"2018-10-01","vpd":12.0},{"date":"2018-10-02","vpd":13.4},{"date":"2018-10-03","vpd":12.6},{"date":"2018-10-04","vpd":12.0},{"date":"2018-10-05","vpd":10.4},{"date":"2018-10-06","vpd":14.2},{"date":"2018-10-07","vpd":10.2}
    ],
    "vpdOutSmooth": [
      {"date":"2017-11-11","vpd":6.4},{"date":"2017-11-12","vpd":6.1},{"date":"2017-11-13","vpd":6.8},{"date":"2017-11-15","vpd":6.9},{"date":"2017-11-17","vpd":7.0},{"date":"2017-11-19","vpd":6.9},{"date":"2017-11-21","vpd":7.4},{"date":"2017-11-23","vpd":7.3},{"date":"2017-11-24","vpd":7.5},{"date":"2017-11-26","vpd":7.6},{"date":"2017-11-27","vpd":7.4},{"date":"2017-11-28","vpd":7.7},{"date":"2017-11-30","vpd":7.8},
      {"date":"2017-12-02","vpd":8.0},{"date":"2017-12-03","vpd":7.6},{"date":"2017-12-05","vpd":6.9},{"date":"2017-12-06","vpd":6.7},{"date":"2017-12-07","vpd":6.3},{"date":"2017-12-08","vpd":5.6},{"date":"2017-12-10","vpd":4.4},{"date":"2017-12-11","vpd":4.0},{"date":"2017-12-13","vpd":4.4},{"date":"2017-12-15","vpd":4.8},{"date":"2017-12-16","vpd":6.6},{"date":"2017-12-17","vpd":7.9},{"date":"2017-12-18","vpd":9.0},{"date":"2017-12-20","vpd":8.5},{"date":"2017-12-22","vpd":8.6},{"date":"2017-12-23","vpd":7.6},{"date":"2017-12-24","vpd":6.0},{"date":"2017-12-26","vpd":4.7},{"date":"2017-12-28","vpd":4.7},{"date":"2017-12-29","vpd":3.3},{"date":"2017-12-31","vpd":3.3},
      {"date":"2018-01-03","vpd":3.0},{"date":"2018-01-04","vpd":2.1},{"date":"2018-01-06","vpd":2.3},{"date":"2018-01-07","vpd":3.2},{"date":"2018-01-09","vpd":5.1},{"date":"2018-01-10","vpd":6.0},{"date":"2018-01-12","vpd":6.5},{"date":"2018-01-13","vpd":5.8},{"date":"2018-01-14","vpd":5.1},{"date":"2018-01-15","vpd":5.1},{"date":"2018-01-17","vpd":4.2},{"date":"2018-01-18","vpd":3.9},{"date":"2018-01-19","vpd":4.3},{"date":"2018-01-21","vpd":4.3},{"date":"2018-01-22","vpd":4.4},{"date":"2018-01-23","vpd":4.2},{"date":"2018-01-25","vpd":3.5},{"date":"2018-01-26","vpd":3.8},{"date":"2018-01-28","vpd":4.1},{"date":"2018-01-29","vpd":4.7},{"date":"2018-01-31","vpd":5.9},
      {"date":"2018-02-01","vpd":6.9},{"date":"2018-02-02","vpd":7.2},{"date":"2018-02-04","vpd":7.8},{"date":"2018-02-05","vpd":8.1},{"date":"2018-02-06","vpd":7.7},{"date":"2018-02-07","vpd":7.2},{"date":"2018-02-09","vpd":6.9},{"date":"2018-02-10","vpd":6.4},{"date":"2018-02-12","vpd":5.5},{"date":"2018-02-13","vpd":5.0},{"date":"2018-02-14","vpd":4.9},{"date":"2018-02-15","vpd":4.6},{"date":"2018-02-17","vpd":4.2},{"date":"2018-02-18","vpd":3.9},{"date":"2018-02-20","vpd":4.2},{"date":"2018-02-21","vpd":3.9},{"date":"2018-02-23","vpd":3.8},{"date":"2018-02-24","vpd":4.0},{"date":"2018-02-26","vpd":4.2},{"date":"2018-02-27","vpd":3.7},{"date":"2018-02-28","vpd":4.0},
      {"date":"2018-03-02","vpd":5.3},{"date":"2018-03-04","vpd":6.2},{"date":"2018-03-06","vpd":7.3},{"date":"2018-03-07","vpd":7.8},{"date":"2018-03-09","vpd":6.6},{"date":"2018-03-11","vpd":6.2},{"date":"2018-03-13","vpd":4.9},{"date":"2018-03-15","vpd":3.8},{"date":"2018-03-17","vpd":5.1},{"date":"2018-03-19","vpd":6.2},{"date":"2018-03-20","vpd":6.9},{"date":"2018-03-22","vpd":7.7},{"date":"2018-03-24","vpd":7.2},{"date":"2018-03-26","vpd":6.8},{"date":"2018-03-27","vpd":6.6},{"date":"2018-03-29","vpd":6.9},{"date":"2018-03-30","vpd":7.3},
      {"date":"2018-04-01","vpd":7.4},{"date":"2018-04-03","vpd":7.6},{"date":"2018-04-04","vpd":8.1},{"date":"2018-04-06","vpd":8.3},{"date":"2018-04-07","vpd":8.1},{"date":"2018-04-08","vpd":7.5},{"date":"2018-04-10","vpd":6.5},{"date":"2018-04-11","vpd":5.2},{"date":"2018-04-13","vpd":4.3},{"date":"2018-04-14","vpd":4.4},{"date":"2018-04-16","vpd":5.1},{"date":"2018-04-18","vpd":6.6},{"date":"2018-04-19","vpd":6.4},{"date":"2018-04-21","vpd":6.7},{"date":"2018-04-22","vpd":5.7},{"date":"2018-04-23","vpd":5.6},{"date":"2018-04-24","vpd":5.2},{"date":"2018-04-26","vpd":4.6},{"date":"2018-04-28","vpd":4.8},{"date":"2018-04-29","vpd":4.8},
      {"date":"2018-05-01","vpd":5.6},{"date":"2018-05-03","vpd":6.6},{"date":"2018-05-05","vpd":7.2},{"date":"2018-05-06","vpd":8.7},{"date":"2018-05-08","vpd":8.4},{"date":"2018-05-09","vpd":8.1},{"date":"2018-05-11","vpd":7.6},{"date":"2018-05-12","vpd":7.6},{"date":"2018-05-14","vpd":8.1},{"date":"2018-05-16","vpd":8.5},{"date":"2018-05-17","vpd":9.2},{"date":"2018-05-18","vpd":9.3},{"date":"2018-05-20","vpd":9.6},{"date":"2018-05-21","vpd":9.9},{"date":"2018-05-23","vpd":11.2},{"date":"2018-05-24","vpd":10.8},{"date":"2018-05-26","vpd":9.8},{"date":"2018-05-28","vpd":9.0},{"date":"2018-05-30","vpd":6.3},{"date":"2018-05-31","vpd":6.1},
      {"date":"2018-06-01","vpd":7.0},{"date":"2018-06-03","vpd":8.3},{"date":"2018-06-04","vpd":9.1},{"date":"2018-06-05","vpd":11.2},{"date":"2018-06-06","vpd":11.5},{"date":"2018-06-07","vpd":11.6},{"date":"2018-06-09","vpd":11.3},{"date":"2018-06-10","vpd":11.8},{"date":"2018-06-11","vpd":11.4},{"date":"2018-06-12","vpd":9.9},{"date":"2018-06-13","vpd":9.7},{"date":"2018-06-15","vpd":9.4},{"date":"2018-06-16","vpd":9.4},{"date":"2018-06-17","vpd":8.1},{"date":"2018-06-18","vpd":7.9},{"date":"2018-06-19","vpd":9.4},{"date":"2018-06-20","vpd":11.1},{"date":"2018-06-22","vpd":11.9},{"date":"2018-06-24","vpd":10.2},{"date":"2018-06-25","vpd":10.2},{"date":"2018-06-27","vpd":9.3},{"date":"2018-06-28","vpd":9.9},{"date":"2018-06-29","vpd":12.0},{"date":"2018-06-30","vpd":15.1},
      {"date":"2018-07-01","vpd":18.1},{"date":"2018-07-03","vpd":19.5},{"date":"2018-07-04","vpd":18.8},{"date":"2018-07-05","vpd":17.1},{"date":"2018-07-07","vpd":15.1},{"date":"2018-07-08","vpd":10.8},{"date":"2018-07-09","vpd":9.9},{"date":"2018-07-10","vpd":8.4},{"date":"2018-07-11","vpd":7.1},{"date":"2018-07-13","vpd":7.6},{"date":"2018-07-14","vpd":7.8},{"date":"2018-07-15","vpd":6.7},{"date":"2018-07-16","vpd":4.5},{"date":"2018-07-18","vpd":3.6},{"date":"2018-07-19","vpd":5.0},{"date":"2018-07-21","vpd":5.4},{"date":"2018-07-22","vpd":6.0},{"date":"2018-07-24","vpd":6.5},{"date":"2018-07-25","vpd":6.7},{"date":"2018-07-26","vpd":5.5},{"date":"2018-07-27","vpd":4.1},{"date":"2018-07-29","vpd":3.6},{"date":"2018-07-30","vpd":3.4},{"date":"2018-07-31","vpd":4.1},
      {"date":"2018-08-02","vpd":3.6},{"date":"2018-08-03","vpd":3.9},{"date":"2018-08-05","vpd":4.0},{"date":"2018-08-06","vpd":4.7},{"date":"2018-08-08","vpd":5.7},{"date":"2018-08-09","vpd":6.9},{"date":"2018-08-11","vpd":7.9},{"date":"2018-08-12","vpd":6.8},{"date":"2018-08-13","vpd":5.5},{"date":"2018-08-15","vpd":4.9},{"date":"2018-08-16","vpd":5.0},{"date":"2018-08-18","vpd":4.1},{"date":"2018-08-19","vpd":5.3},{"date":"2018-08-21","vpd":6.4},{"date":"2018-08-23","vpd":7.2},{"date":"2018-08-24","vpd":6.9},{"date":"2018-08-25","vpd":5.5},{"date":"2018-08-27","vpd":4.2},{"date":"2018-08-29","vpd":4.4},{"date":"2018-08-30","vpd":3.1},{"date":"2018-08-31","vpd":2.1},
      {"date":"2018-09-01","vpd":3.6},{"date":"2018-09-03","vpd":5.5},{"date":"2018-09-04","vpd":5.6},{"date":"2018-09-05","vpd":7.7},{"date":"2018-09-06","vpd":9.9},{"date":"2018-09-08","vpd":9.9},{"date":"2018-09-09","vpd":10.1},{"date":"2018-09-10","vpd":10.6},{"date":"2018-09-11","vpd":9.9},{"date":"2018-09-13","vpd":9.1},{"date":"2018-09-14","vpd":8.5},{"date":"2018-09-15","vpd":7.4},{"date":"2018-09-17","vpd":6.0},{"date":"2018-09-19","vpd":6.9},{"date":"2018-09-20","vpd":7.2},{"date":"2018-09-21","vpd":7.4},{"date":"2018-09-23","vpd":9.0},{"date":"2018-09-24","vpd":8.5},{"date":"2018-09-25","vpd":7.1},{"date":"2018-09-26","vpd":6.9},{"date":"2018-09-28","vpd":7.4},{"date":"2018-09-29","vpd":8.2},{"date":"2018-09-30","vpd":9.9},
      {"date":"2018-10-01","vpd":11.9},{"date":"2018-10-02","vpd":12.6},{"date":"2018-10-04","vpd":12.7},{"date":"2018-10-05","vpd":12.4},{"date":"2018-10-06","vpd":12.0},{"date":"2018-10-07","vpd":10.5},{"date":"2018-10-08","vpd":10.3}
    ],
    "rn": [
      {"seg":"a","date":"2017-11-07","rn":138.5},{"seg":"a","date":"2017-11-08","rn":66.5},{"seg":"a","date":"2017-11-09","rn":101},{"seg":"a","date":"2017-11-10","rn":102.5},{"seg":"a","date":"2017-11-11","rn":99},{"seg":"a","date":"2017-11-12","rn":145},{"seg":"a","date":"2017-11-13","rn":124},{"seg":"a","date":"2017-11-14","rn":127.5},{"seg":"a","date":"2017-11-15","rn":105},{"seg":"a","date":"2017-11-16","rn":141.8},{"seg":"a","date":"2017-11-17","rn":112},{"seg":"a","date":"2017-11-18","rn":88},{"seg":"a","date":"2017-11-19","rn":71},{"seg":"a","date":"2017-11-20","rn":70},{"seg":"a","date":"2017-11-21","rn":97},{"seg":"a","date":"2017-11-22","rn":109},{"seg":"a","date":"2017-11-23","rn":110},{"seg":"a","date":"2017-11-24","rn":103.7},{"seg":"a","date":"2017-11-25","rn":95},{"seg":"a","date":"2017-11-26","rn":132},{"seg":"a","date":"2017-11-27","rn":169},{"seg":"a","date":"2017-11-28","rn":179},{"seg":"a","date":"2017-11-29","rn":186.5},{"seg":"a","date":"2017-11-30","rn":186.5},
      {"seg":"a","date":"2017-12-01","rn":215},{"seg":"a","date":"2017-12-02","rn":155},{"seg":"a","date":"2017-12-03","rn":149.6},{"seg":"a","date":"2017-12-04","rn":190},{"seg":"a","date":"2017-12-05","rn":133.8},{"seg":"a","date":"2017-12-06","rn":138},{"seg":"a","date":"2017-12-07","rn":146},{"seg":"a","date":"2017-12-08","rn":157},{"seg":"a","date":"2017-12-09","rn":180},{"seg":"a","date":"2017-12-10","rn":215},{"seg":"a","date":"2017-12-11","rn":240},{"seg":"a","date":"2017-12-12","rn":132},{"seg":"a","date":"2017-12-13","rn":200},{"seg":"a","date":"2017-12-14","rn":150.5},{"seg":"a","date":"2017-12-15","rn":150.5},{"seg":"a","date":"2017-12-16","rn":173},{"seg":"a","date":"2017-12-17","rn":150.5},{"seg":"a","date":"2017-12-18","rn":150.5},{"seg":"a","date":"2017-12-19","rn":185.6},{"seg":"a","date":"2017-12-20","rn":185},{"seg":"a","date":"2017-12-21","rn":134},{"seg":"a","date":"2017-12-22","rn":144},{"seg":"a","date":"2017-12-23","rn":182},{"seg":"a","date":"2017-12-24","rn":205},{"seg":"a","date":"2017-12-25","rn":145},{"seg":"a","date":"2017-12-26","rn":145},{"seg":"a","date":"2017-12-27","rn":172},{"seg":"a","date":"2017-12-28","rn":166},{"seg":"a","date":"2017-12-29","rn":313},{"seg":"a","date":"2017-12-30","rn":314},{"seg":"a","date":"2017-12-31","rn":317},
      {"seg":"a","date":"2018-01-01","rn":380},{"seg":"a","date":"2018-01-02","rn":383},{"seg":"a","date":"2018-01-03","rn":334},{"seg":"a","date":"2018-01-04","rn":104.5},
      {"seg":"b","date":"2018-01-08","rn":105.8},{"seg":"b","date":"2018-01-09","rn":221.5},{"seg":"b","date":"2018-01-10","rn":264},{"seg":"b","date":"2018-01-11","rn":245},{"seg":"b","date":"2018-01-12","rn":411},{"seg":"b","date":"2018-01-13","rn":374.7},
      {"seg":"c","date":"2018-06-01","rn":445},{"seg":"c","date":"2018-06-02","rn":481},{"seg":"c","date":"2018-06-03","rn":470},{"seg":"c","date":"2018-06-05","rn":376.7},{"seg":"c","date":"2018-06-06","rn":427},{"seg":"c","date":"2018-06-07","rn":506},{"seg":"c","date":"2018-06-08","rn":429},{"seg":"c","date":"2018-06-09","rn":448.7},{"seg":"c","date":"2018-06-10","rn":333.7},{"seg":"c","date":"2018-06-11","rn":355},{"seg":"c","date":"2018-06-12","rn":345},{"seg":"c","date":"2018-06-13","rn":545.5},{"seg":"c","date":"2018-06-15","rn":279.8},{"seg":"c","date":"2018-06-16","rn":420},{"seg":"c","date":"2018-06-17","rn":570.6},{"seg":"c","date":"2018-06-18","rn":592},{"seg":"c","date":"2018-06-19","rn":545.5},{"seg":"c","date":"2018-06-20","rn":416},{"seg":"c","date":"2018-06-21","rn":410},{"seg":"c","date":"2018-06-22","rn":448.7},{"seg":"c","date":"2018-06-23","rn":427},{"seg":"c","date":"2018-06-24","rn":524},{"seg":"c","date":"2018-06-25","rn":524},{"seg":"c","date":"2018-06-26","rn":595.7},{"seg":"c","date":"2018-06-27","rn":517},{"seg":"c","date":"2018-06-28","rn":410},{"seg":"c","date":"2018-06-29","rn":556.3},{"seg":"c","date":"2018-06-30","rn":481},
      {"seg":"c","date":"2018-07-01","rn":500},{"seg":"c","date":"2018-07-02","rn":391},{"seg":"c","date":"2018-07-03","rn":315.8},{"seg":"c","date":"2018-07-04","rn":347},{"seg":"c","date":"2018-07-05","rn":509.5},{"seg":"c","date":"2018-07-06","rn":458.8},{"seg":"c","date":"2018-07-07","rn":310},{"seg":"c","date":"2018-07-08","rn":448.7},{"seg":"c","date":"2018-07-09","rn":391},{"seg":"c","date":"2018-07-10","rn":440},{"seg":"c","date":"2018-07-11","rn":441},{"seg":"c","date":"2018-07-12","rn":466.5},{"seg":"c","date":"2018-07-13","rn":341.8},{"seg":"c","date":"2018-07-14","rn":310},{"seg":"c","date":"2018-07-15","rn":233.4},{"seg":"c","date":"2018-07-16","rn":310},{"seg":"c","date":"2018-07-17","rn":310},{"seg":"c","date":"2018-07-18","rn":283.4},{"seg":"c","date":"2018-07-19","rn":367},{"seg":"c","date":"2018-07-20","rn":418},{"seg":"c","date":"2018-07-21","rn":310},{"seg":"c","date":"2018-07-22","rn":383.5},{"seg":"c","date":"2018-07-23","rn":446.7},{"seg":"c","date":"2018-07-24","rn":391},{"seg":"c","date":"2018-07-25","rn":391},{"seg":"c","date":"2018-07-26","rn":331.6},{"seg":"c","date":"2018-07-27","rn":290.6},{"seg":"c","date":"2018-07-28","rn":398},{"seg":"c","date":"2018-07-29","rn":372},{"seg":"c","date":"2018-07-30","rn":347},{"seg":"c","date":"2018-07-31","rn":347},
      {"seg":"c","date":"2018-08-01","rn":391},{"seg":"c","date":"2018-08-02","rn":370},{"seg":"c","date":"2018-08-03","rn":420},{"seg":"c","date":"2018-08-04","rn":364},{"seg":"c","date":"2018-08-05","rn":315.8},{"seg":"c","date":"2018-08-06","rn":454},{"seg":"c","date":"2018-08-07","rn":307},{"seg":"c","date":"2018-08-08","rn":424},{"seg":"c","date":"2018-08-09","rn":258},{"seg":"c","date":"2018-08-10","rn":297.5},{"seg":"c","date":"2018-08-11","rn":364},{"seg":"c","date":"2018-08-12","rn":280},{"seg":"c","date":"2018-08-13","rn":320},{"seg":"c","date":"2018-08-14","rn":347},{"seg":"c","date":"2018-08-15","rn":244},{"seg":"c","date":"2018-08-16","rn":172},{"seg":"c","date":"2018-08-17","rn":220.6}
    ],
    "vpdIn": [
      {"seg":"a","date":"2017-11-08","vpd":4.2},{"seg":"a","date":"2017-11-09","vpd":3.0},{"seg":"a","date":"2017-11-10","vpd":3.1},{"seg":"a","date":"2017-11-11","vpd":3.3},{"seg":"a","date":"2017-11-12","vpd":3.9},{"seg":"a","date":"2017-11-13","vpd":3.8},{"seg":"a","date":"2017-11-15","vpd":3.9},{"seg":"a","date":"2017-11-16","vpd":4.5},{"seg":"a","date":"2017-11-18","vpd":4.6},{"seg":"a","date":"2017-11-19","vpd":3.2},{"seg":"a","date":"2017-11-20","vpd":3.5},{"seg":"a","date":"2017-11-21","vpd":3.2},{"seg":"a","date":"2017-11-22","vpd":3.0},{"seg":"a","date":"2017-11-23","vpd":3.8},{"seg":"a","date":"2017-11-24","vpd":3.3},{"seg":"a","date":"2017-11-25","vpd":3.0},{"seg":"a","date":"2017-11-26","vpd":2.3},{"seg":"a","date":"2017-11-27","vpd":2.1},{"seg":"a","date":"2017-11-28","vpd":2.3},{"seg":"a","date":"2017-11-29","vpd":2.3},{"seg":"a","date":"2017-11-30","vpd":2.4},
      {"seg":"a","date":"2017-12-01","vpd":3.1},{"seg":"a","date":"2017-12-02","vpd":3.2},{"seg":"a","date":"2017-12-03","vpd":2.6},{"seg":"a","date":"2017-12-04","vpd":3.1},{"seg":"a","date":"2017-12-05","vpd":3.9},{"seg":"a","date":"2017-12-06","vpd":3.2},{"seg":"a","date":"2017-12-07","vpd":2.4},{"seg":"a","date":"2017-12-08","vpd":2.7},{"seg":"a","date":"2017-12-09","vpd":3.2},{"seg":"a","date":"2017-12-10","vpd":2.7},{"seg":"a","date":"2017-12-11","vpd":1.7},{"seg":"a","date":"2017-12-12","vpd":1.5},{"seg":"a","date":"2017-12-13","vpd":1.6},{"seg":"a","date":"2017-12-14","vpd":1.9},{"seg":"a","date":"2017-12-15","vpd":3.0},{"seg":"a","date":"2017-12-16","vpd":3.0},{"seg":"a","date":"2017-12-17","vpd":2.7},{"seg":"a","date":"2017-12-18","vpd":3.0},{"seg":"a","date":"2017-12-19","vpd":3.1},{"seg":"a","date":"2017-12-20","vpd":3.3},{"seg":"a","date":"2017-12-21","vpd":2.9},{"seg":"a","date":"2017-12-22","vpd":2.4},{"seg":"a","date":"2017-12-23","vpd":2.7},{"seg":"a","date":"2017-12-24","vpd":2.7},{"seg":"a","date":"2017-12-25","vpd":1.9},{"seg":"a","date":"2017-12-26","vpd":1.6},{"seg":"a","date":"2017-12-27","vpd":1.4},{"seg":"a","date":"2017-12-28","vpd":1.6},{"seg":"a","date":"2017-12-30","vpd":2.8},
      {"seg":"a","date":"2018-01-01","vpd":1.7},{"seg":"a","date":"2018-01-02","vpd":1.8},{"seg":"a","date":"2018-01-03","vpd":1.8},{"seg":"a","date":"2018-01-04","vpd":1.8},
      {"seg":"b","date":"2018-01-07","vpd":2.9},{"seg":"b","date":"2018-01-08","vpd":2.7},{"seg":"b","date":"2018-01-09","vpd":2.6},{"seg":"b","date":"2018-01-10","vpd":2.5},{"seg":"b","date":"2018-01-11","vpd":2.5},{"seg":"b","date":"2018-01-12","vpd":2.6},
      {"seg":"c","date":"2018-06-02","vpd":8.4},{"seg":"c","date":"2018-06-03","vpd":6.8},{"seg":"c","date":"2018-06-04","vpd":6.7},{"seg":"c","date":"2018-06-05","vpd":8.5},{"seg":"c","date":"2018-06-06","vpd":8.8},{"seg":"c","date":"2018-06-07","vpd":8.2},{"seg":"c","date":"2018-06-08","vpd":12.4},{"seg":"c","date":"2018-06-09","vpd":19.9},{"seg":"c","date":"2018-06-10","vpd":19.9},{"seg":"c","date":"2018-06-12","vpd":20.9},{"seg":"c","date":"2018-06-13","vpd":23.5},{"seg":"c","date":"2018-06-14","vpd":21.1},{"seg":"c","date":"2018-06-15","vpd":20.6},{"seg":"c","date":"2018-06-16","vpd":19.5},{"seg":"c","date":"2018-06-17","vpd":17.7},{"seg":"c","date":"2018-06-18","vpd":18.3},{"seg":"c","date":"2018-06-19","vpd":20.8},{"seg":"c","date":"2018-06-20","vpd":22.4},{"seg":"c","date":"2018-06-21","vpd":24.2},{"seg":"c","date":"2018-06-22","vpd":25.4},{"seg":"c","date":"2018-06-23","vpd":26.1},{"seg":"c","date":"2018-06-24","vpd":22.9},{"seg":"c","date":"2018-06-25","vpd":20.8},{"seg":"c","date":"2018-06-26","vpd":19.2},{"seg":"c","date":"2018-06-27","vpd":17.4},{"seg":"c","date":"2018-06-28","vpd":20.8},{"seg":"c","date":"2018-06-29","vpd":24.6},{"seg":"c","date":"2018-06-30","vpd":26.0},
      {"seg":"c","date":"2018-07-01","vpd":26.2},{"seg":"c","date":"2018-07-02","vpd":29.8},{"seg":"c","date":"2018-07-03","vpd":31.7},{"seg":"c","date":"2018-07-04","vpd":31.2},{"seg":"c","date":"2018-07-05","vpd":29.5},{"seg":"c","date":"2018-07-06","vpd":22.0},{"seg":"c","date":"2018-07-07","vpd":19.2},{"seg":"c","date":"2018-07-08","vpd":16.7},{"seg":"c","date":"2018-07-09","vpd":16.1},{"seg":"c","date":"2018-07-10","vpd":16.0},{"seg":"c","date":"2018-07-11","vpd":17.6},{"seg":"c","date":"2018-07-12","vpd":19.0},{"seg":"c","date":"2018-07-13","vpd":17.2},{"seg":"c","date":"2018-07-14","vpd":14.9},{"seg":"c","date":"2018-07-15","vpd":13.7},{"seg":"c","date":"2018-07-16","vpd":5.6},{"seg":"c","date":"2018-07-17","vpd":5.7},{"seg":"c","date":"2018-07-19","vpd":4.6},{"seg":"c","date":"2018-07-20","vpd":4.5},{"seg":"c","date":"2018-07-21","vpd":4.1},{"seg":"c","date":"2018-07-22","vpd":6.2},{"seg":"c","date":"2018-07-23","vpd":6.9},{"seg":"c","date":"2018-07-24","vpd":8.0},{"seg":"c","date":"2018-07-25","vpd":6.5},{"seg":"c","date":"2018-07-26","vpd":5.5},{"seg":"c","date":"2018-07-27","vpd":4.1},{"seg":"c","date":"2018-07-28","vpd":4.2},{"seg":"c","date":"2018-07-29","vpd":4.9},{"seg":"c","date":"2018-07-30","vpd":5.3},{"seg":"c","date":"2018-07-31","vpd":5.4},
      {"seg":"c","date":"2018-08-01","vpd":5.4},{"seg":"c","date":"2018-08-02","vpd":5.3},{"seg":"c","date":"2018-08-03","vpd":5.6},{"seg":"c","date":"2018-08-04","vpd":5.3},{"seg":"c","date":"2018-08-05","vpd":4.9},{"seg":"c","date":"2018-08-06","vpd":5.3},{"seg":"c","date":"2018-08-07","vpd":5.5},{"seg":"c","date":"2018-08-08","vpd":5.7},{"seg":"c","date":"2018-08-09","vpd":6.7},{"seg":"c","date":"2018-08-10","vpd":6.9},{"seg":"c","date":"2018-08-11","vpd":7.6},{"seg":"c","date":"2018-08-12","vpd":7.9},{"seg":"c","date":"2018-08-13","vpd":7.3},{"seg":"c","date":"2018-08-14","vpd":7.1},{"seg":"c","date":"2018-08-15","vpd":6.1},{"seg":"c","date":"2018-08-16","vpd":5.1},{"seg":"c","date":"2018-08-17","vpd":4.25}
    ],
    "vpdInSmooth": [
      {"seg":"a","date":"2017-11-11","vpd":3.4},{"seg":"a","date":"2017-11-12","vpd":3.7},{"seg":"a","date":"2017-11-15","vpd":4.0},{"seg":"a","date":"2017-11-18","vpd":3.7},{"seg":"a","date":"2017-11-20","vpd":3.4},{"seg":"a","date":"2017-11-23","vpd":3.1},{"seg":"a","date":"2017-11-25","vpd":2.75},{"seg":"a","date":"2017-11-27","vpd":2.5},{"seg":"a","date":"2017-11-29","vpd":2.5},{"seg":"a","date":"2017-12-01","vpd":2.8},{"seg":"a","date":"2017-12-03","vpd":3.0},{"seg":"a","date":"2017-12-05","vpd":3.0},{"seg":"a","date":"2017-12-07","vpd":2.9},{"seg":"a","date":"2017-12-09","vpd":2.5},{"seg":"a","date":"2017-12-11","vpd":2.1},{"seg":"a","date":"2017-12-12","vpd":2.0},{"seg":"a","date":"2017-12-14","vpd":2.2},{"seg":"a","date":"2017-12-16","vpd":2.7},{"seg":"a","date":"2017-12-19","vpd":3.0},{"seg":"a","date":"2017-12-21","vpd":2.8},{"seg":"a","date":"2017-12-23","vpd":2.5},{"seg":"a","date":"2017-12-25","vpd":2.2},{"seg":"a","date":"2017-12-27","vpd":2.0},{"seg":"a","date":"2017-12-28","vpd":1.9},{"seg":"a","date":"2017-12-30","vpd":1.8},{"seg":"a","date":"2018-01-01","vpd":1.9},
      {"seg":"b","date":"2018-01-05","vpd":2.0},{"seg":"b","date":"2018-01-07","vpd":2.3},{"seg":"b","date":"2018-01-09","vpd":2.6},
      {"seg":"c","date":"2018-06-05","vpd":8.6},{"seg":"c","date":"2018-06-06","vpd":11.5},{"seg":"c","date":"2018-06-08","vpd":14.9},{"seg":"c","date":"2018-06-10","vpd":17.7},{"seg":"c","date":"2018-06-11","vpd":20.8},{"seg":"c","date":"2018-06-13","vpd":20.5},{"seg":"c","date":"2018-06-15","vpd":20.2},{"seg":"c","date":"2018-06-17","vpd":20.1},{"seg":"c","date":"2018-06-19","vpd":21.4},{"seg":"c","date":"2018-06-20","vpd":22.9},{"seg":"c","date":"2018-06-22","vpd":23.4},{"seg":"c","date":"2018-06-23","vpd":22.5},{"seg":"c","date":"2018-06-26","vpd":21.6},{"seg":"c","date":"2018-06-27","vpd":21.1},{"seg":"c","date":"2018-06-28","vpd":22.1},{"seg":"c","date":"2018-06-30","vpd":25.1},{"seg":"c","date":"2018-07-01","vpd":27.6},{"seg":"c","date":"2018-07-02","vpd":28.0},{"seg":"c","date":"2018-07-03","vpd":27.3},{"seg":"c","date":"2018-07-05","vpd":25.6},{"seg":"c","date":"2018-07-06","vpd":24.0},{"seg":"c","date":"2018-07-07","vpd":21.7},{"seg":"c","date":"2018-07-08","vpd":19.4},{"seg":"c","date":"2018-07-09","vpd":18.0},{"seg":"c","date":"2018-07-11","vpd":16.8},{"seg":"c","date":"2018-07-13","vpd":15.8},{"seg":"c","date":"2018-07-14","vpd":13.5},{"seg":"c","date":"2018-07-16","vpd":9.6},{"seg":"c","date":"2018-07-18","vpd":6.2},{"seg":"c","date":"2018-07-19","vpd":5.2},{"seg":"c","date":"2018-07-21","vpd":5.7},{"seg":"c","date":"2018-07-24","vpd":6.0},{"seg":"c","date":"2018-07-25","vpd":6.0},{"seg":"c","date":"2018-07-27","vpd":5.3},{"seg":"c","date":"2018-07-29","vpd":5.0},{"seg":"c","date":"2018-07-31","vpd":5.2},{"seg":"c","date":"2018-08-02","vpd":5.3},{"seg":"c","date":"2018-08-04","vpd":5.3},{"seg":"c","date":"2018-08-06","vpd":5.6},{"seg":"c","date":"2018-08-08","vpd":6.5},{"seg":"c","date":"2018-08-10","vpd":6.9},{"seg":"c","date":"2018-08-12","vpd":7.1},{"seg":"c","date":"2018-08-13","vpd":6.8},{"seg":"c","date":"2018-08-14","vpd":6.45}
    ]
  },
  "bounds": "flush",
  "spacing": 140,
  "vconcat": [
    {
      "width": 1813,
      "height": 990,
      "resolve": {"scale": {"y": "independent"}},
      "layer": [
        {
          "layer": [
            {
              "data": {"name": "precip"},
              "mark": {"type": "area", "color": "#4682b4", "stroke": "#4682b4", "strokeWidth": 2},
              "encoding": {
                "x": {"field": "date", "type": "temporal",
                  "scale": {"domain": [{"year": 2017, "month": 11, "date": 7, "utc": true}, {"year": 2018, "month": 10, "date": 8, "utc": true}], "nice": false},
                  "axis": {"orient": "bottom", "domain": true, "ticks": false, "labels": false, "title": null}},
                "y": {"field": "precip", "type": "quantitative",
                  "scale": {"domain": [0, 25], "nice": false},
                  "axis": {"orient": "left", "values": [5, 10, 15, 20, 25], "tickSize": -25, "labelPadding": 50,
                    "title": "Daily precipitation (mm)", "titleColor": "#1f7fc0",
                    "titleX": -147, "titleY": 495, "titleAngle": 270, "titleBaseline": "middle", "titleAlign": "center"}}
              }
            },
            {
              "data": {"values": [{}]},
              "mark": {"type": "text", "text": "monsoon season", "fontSize": 82, "color": "#6600cc", "align": "center", "baseline": "alphabetic"},
              "encoding": {
                "x": {"datum": {"year": 2018, "month": 7, "date": 2, "hours": 14, "utc": true}, "type": "temporal"},
                "y": {"datum": 9.5, "type": "quantitative"}
              }
            },
            {
              "data": {"name": "months"},
              "mark": {"type": "rule", "color": "black", "strokeWidth": 5, "strokeCap": "square"},
              "encoding": {"x": {"field": "start", "type": "temporal", "axis": null}, "x2": {"field": "end"}, "y": {"datum": -0.40, "type": "quantitative"}}
            },
            {
              "data": {"name": "months"},
              "mark": {"type": "rule", "color": "black", "strokeWidth": 5, "strokeCap": "square"},
              "encoding": {"x": {"field": "start", "type": "temporal", "axis": null}, "y": {"datum": -0.40, "type": "quantitative"}, "y2": {"datum": -0.96}}
            },
            {
              "data": {"name": "months"},
              "mark": {"type": "rule", "color": "black", "strokeWidth": 5, "strokeCap": "square"},
              "encoding": {"x": {"field": "end", "type": "temporal", "axis": null}, "y": {"datum": -0.40, "type": "quantitative"}, "y2": {"datum": -0.96}}
            },
            {
              "data": {"name": "months"},
              "mark": {"type": "text", "fontSize": 54, "align": "center", "baseline": "alphabetic", "color": "black"},
              "encoding": {"x": {"field": "mid", "type": "temporal", "axis": null}, "y": {"datum": -1.77, "type": "quantitative"}, "text": {"field": "m", "type": "nominal"}}
            }
          ]
        },
        {
          "data": {"name": "temp"},
          "mark": {"type": "line", "color": "#ff00ff", "strokeWidth": 5.5},
          "encoding": {
            "x": {"field": "date", "type": "temporal", "axis": null},
            "y": {"field": "temp", "type": "quantitative",
              "scale": {"domain": [9, 36], "nice": false, "zero": false},
              "axis": {"orient": "right", "values": [10, 15, 20, 25, 30, 35], "tickSize": -29, "labelPadding": 48,
                "title": "Outdoor air daily mean temperature (°C)", "titleColor": "#ff00ff",
                "titleX": 122, "titleY": 490, "titleAngle": 270, "titleBaseline": "middle", "titleAlign": "center"}}
          }
        }
      ]
    },
    {
      "bounds": "flush",
      "spacing": 240,
      "vconcat": [
        {
          "width": 1813,
          "height": 991,
          "resolve": {"scale": {"y": "independent"}},
          "layer": [
            {
              "layer": [
                {
                  "data": {"name": "vpdOut"},
                  "mark": {"type": "line", "color": "#808080", "strokeWidth": 1.5,
                    "point": {"filled": true, "fill": "#555555", "stroke": "#333333", "strokeWidth": 0.6, "size": 44}},
                  "encoding": {
                    "x": {"field": "date", "type": "temporal",
                      "scale": {"domain": [{"year": 2017, "month": 11, "date": 7, "utc": true}, {"year": 2018, "month": 10, "date": 8, "utc": true}], "nice": false},
                      "axis": {"orient": "bottom", "domain": true, "ticks": false, "labels": false, "title": null}},
                    "y": {"field": "vpd", "type": "quantitative",
                      "scale": {"domain": [0, 25], "nice": false},
                      "axis": {"orient": "left", "values": [5, 10, 15, 20, 25], "tickSize": -25, "labelPadding": 50,
                        "title": ["Outdoor air daily mean", "vapor pressure deficit (hPa)"], "titleColor": "#1a961a", "titleLineHeight": 63,
                        "titleX": -172, "titleY": 495, "titleAngle": 270, "titleBaseline": "middle", "titleAlign": "center"}}
                  }
                },
                {
                  "data": {"name": "months"},
                  "mark": {"type": "rule", "color": "black", "strokeWidth": 5, "strokeCap": "square"},
                  "encoding": {"x": {"field": "start", "type": "temporal", "axis": null}, "x2": {"field": "end"}, "y": {"datum": -0.42, "type": "quantitative"}}
                },
                {
                  "data": {"name": "months"},
                  "mark": {"type": "rule", "color": "black", "strokeWidth": 5, "strokeCap": "square"},
                  "encoding": {"x": {"field": "start", "type": "temporal", "axis": null}, "y": {"datum": -0.42, "type": "quantitative"}, "y2": {"datum": -1.17}}
                },
                {
                  "data": {"name": "months"},
                  "mark": {"type": "rule", "color": "black", "strokeWidth": 5, "strokeCap": "square"},
                  "encoding": {"x": {"field": "end", "type": "temporal", "axis": null}, "y": {"datum": -0.42, "type": "quantitative"}, "y2": {"datum": -1.17}}
                },
                {
                  "data": {"name": "months"},
                  "mark": {"type": "text", "fontSize": 54, "align": "center", "baseline": "alphabetic", "color": "black"},
                  "encoding": {"x": {"field": "mid", "type": "temporal", "axis": null}, "y": {"datum": -1.94, "type": "quantitative"}, "text": {"field": "m", "type": "nominal"}}
                }
              ]
            },
            {
              "data": {"name": "vpdOutSmooth"},
              "mark": {"type": "line", "color": "#1a961a", "strokeWidth": 7, "interpolate": "monotone"},
              "encoding": {
                "x": {"field": "date", "type": "temporal", "axis": null},
                "y": {"field": "vpd", "type": "quantitative",
                  "scale": {"domain": [0, 25], "nice": false},
                  "axis": {"orient": "right", "values": [5, 10, 15, 20, 25], "tickSize": -40, "labels": false, "title": null}}
              }
            }
          ]
        },
        {
          "width": 1813,
          "height": 994,
          "resolve": {"scale": {"y": "independent"}},
          "layer": [
            {
              "layer": [
                {
                  "data": {"name": "rn"},
                  "mark": {"type": "line", "color": "#ff0000", "strokeWidth": 6},
                  "encoding": {
                    "x": {"field": "date", "type": "temporal",
                      "scale": {"domain": [{"year": 2017, "month": 11, "date": 7, "utc": true}, {"year": 2018, "month": 10, "date": 8, "utc": true}], "nice": false},
                      "axis": {"orient": "bottom", "domain": true, "ticks": false, "labels": false, "title": null}},
                    "y": {"field": "rn", "type": "quantitative",
                      "scale": {"domain": [0, 650], "nice": false},
                      "axis": {"orient": "left", "values": [200, 300, 400, 500, 600], "labelExpr": "datum.value % 200 === 0 ? datum.label : ''",
                        "tickSize": -19, "labelPadding": 40,
                        "title": ["Daily mean ²²⁰Rn concentration", "in room air close to mud wall (Bq m⁻³)"], "titleColor": "#ff0000", "titleLineHeight": 63,
                        "titleX": -200, "titleY": 502, "titleAngle": 270, "titleBaseline": "middle", "titleAlign": "center"}},
                    "detail": {"field": "seg", "type": "nominal"}
                  }
                },
                {
                  "data": {"values": [{}]},
                  "mark": {"type": "rect", "fill": "white", "stroke": "black", "strokeWidth": 5},
                  "encoding": {
                    "x": {"datum": {"year": 2017, "month": 11, "date": 15, "hours": 10, "utc": true}, "type": "temporal"},
                    "x2": {"datum": {"year": 2018, "month": 2, "date": 6, "hours": 19, "utc": true}},
                    "y": {"datum": 648.6, "type": "quantitative"},
                    "y2": {"datum": 498.9}
                  }
                },
                {
                  "data": {"values": [{}]},
                  "mark": {"type": "text", "text": ["Completion of mud house", "construction in Nov. 2017", "when mud walls were wet", "and ²²⁰Rn exhalation", "was limited."],
                    "fontSize": 36, "lineHeight": 42, "align": "center", "baseline": "middle", "color": "black"},
                  "encoding": {
                    "x": {"datum": {"year": 2017, "month": 12, "date": 26, "hours": 14, "utc": true}, "type": "temporal"},
                    "y": {"datum": 627.4, "type": "quantitative"}
                  }
                },
                {
                  "data": {"values": [{}]},
                  "mark": {"type": "rule", "color": "black", "strokeWidth": 4.5},
                  "encoding": {
                    "x": {"datum": {"year": 2017, "month": 11, "date": 27, "hours": 18, "utc": true}, "type": "temporal"},
                    "x2": {"datum": {"year": 2017, "month": 11, "date": 13, "hours": 11, "utc": true}},
                    "y": {"datum": 498.9, "type": "quantitative"},
                    "y2": {"datum": 191}
                  }
                },
                {
                  "data": {"values": [{}]},
                  "mark": {"type": "point", "shape": "M0,0L0.27,1L-0.27,1Z", "filled": true, "color": "black", "opacity": 1, "size": 6400, "angle": 189.3, "strokeWidth": 0},
                  "encoding": {
                    "x": {"datum": {"year": 2017, "month": 11, "date": 12, "hours": 13, "utc": true}, "type": "temporal"},
                    "y": {"datum": 172.5, "type": "quantitative"}
                  }
                },
                {
                  "data": {"values": [{}]},
                  "mark": {"type": "point", "shape": "M0,0L0.33,0.98L0.10,0.99L0.24,2.54L-0.24,2.54L-0.10,0.99L-0.33,0.98Z", "filled": true, "color": "#222222", "opacity": 1, "size": 40000, "angle": 38, "strokeWidth": 0},
                  "encoding": {
                    "x": {"datum": {"year": 2018, "month": 1, "date": 1, "utc": true}, "type": "temporal"},
                    "y": {"datum": 406.8, "type": "quantitative"}
                  }
                },
                {
                  "data": {"values": [{}]},
                  "mark": {"type": "point", "shape": "M0,0L0.33,0.98L0.10,0.99L0.24,2.54L-0.24,2.54L-0.10,0.99L-0.33,0.98Z", "filled": true, "color": "#222222", "opacity": 1, "size": 40000, "angle": 138.2, "strokeWidth": 0},
                  "encoding": {
                    "x": {"datum": {"year": 2018, "month": 8, "date": 28, "hours": 19, "utc": true}, "type": "temporal"},
                    "y": {"datum": 406.4, "type": "quantitative"}
                  }
                },
                {
                  "data": {"values": [{}]},
                  "mark": {"type": "text", "text": "gradual drying", "fontSize": 43, "fontWeight": "bold", "angle": -47.3, "align": "center", "baseline": "middle", "color": "black"},
                  "encoding": {
                    "x": {"datum": {"year": 2017, "month": 12, "date": 12, "hours": 10, "utc": true}, "type": "temporal"},
                    "y": {"datum": 373, "type": "quantitative"}
                  }
                },
                {
                  "data": {"values": [{}]},
                  "mark": {"type": "text", "text": ["further drying", "reduces ²²⁰Rn", "exhalation"], "fontSize": 45, "lineHeight": 58, "angle": 46.5, "align": "center", "baseline": "middle", "color": "black"},
                  "encoding": {
                    "x": {"datum": {"year": 2018, "month": 9, "date": 4, "hours": 17, "utc": true}, "type": "temporal"},
                    "y": {"datum": 554.4, "type": "quantitative"}
                  }
                },
                {
                  "data": {"values": [{}]},
                  "mark": {"type": "text", "text": ["optimum moisture", "for ²²⁰Rn exhalation"], "fontSize": 48, "lineHeight": 62, "align": "center", "baseline": "middle", "color": "black"},
                  "encoding": {
                    "x": {"datum": {"year": 2018, "month": 6, "date": 24, "hours": 22, "utc": true}, "type": "temporal"},
                    "y": {"datum": 712.0, "type": "quantitative"}
                  }
                },
                {
                  "data": {"values": [{}]},
                  "mark": {"type": "text", "text": ["no data from", "Thoron Scout"], "fontSize": 46, "lineHeight": 46, "align": "center", "baseline": "middle", "color": "black"},
                  "encoding": {
                    "x": {"datum": {"year": 2018, "month": 5, "date": 2, "hours": 22, "utc": true}, "type": "temporal"},
                    "y": {"datum": 142.0, "type": "quantitative"}
                  }
                },
                {
                  "data": {"values": [{}]},
                  "mark": {"type": "text", "text": "Month (November 2017 to October 2018)", "fontSize": 55, "fontWeight": "bold", "align": "center", "baseline": "alphabetic", "color": "black"},
                  "encoding": {
                    "x": {"datum": {"year": 2018, "month": 4, "date": 22, "hours": 22, "utc": true}, "type": "temporal"},
                    "y": {"datum": -105.4, "type": "quantitative"}
                  }
                },
                {
                  "data": {"values": [{}]},
                  "mark": {"type": "rule", "color": "black", "strokeWidth": 4, "strokeDash": [4, 16]},
                  "encoding": {
                    "x": {"datum": {"year": 2018, "month": 5, "date": 26, "hours": 2, "utc": true}, "type": "temporal"},
                    "x2": {"datum": {"year": 2018, "month": 4, "date": 25, "hours": 14, "utc": true}},
                    "y": {"datum": 96.2, "type": "quantitative"},
                    "y2": {"datum": 31.3}
                  }
                },
                {
                  "data": {"values": [{}]},
                  "mark": {"type": "rule", "color": "black", "strokeWidth": 4, "strokeDash": [4, 16]},
                  "encoding": {
                    "x": {"datum": {"year": 2018, "month": 5, "date": 26, "hours": 2, "utc": true}, "type": "temporal"},
                    "x2": {"datum": {"year": 2018, "month": 9, "date": 12, "hours": 17, "utc": true}},
                    "y": {"datum": 96.2, "type": "quantitative"},
                    "y2": {"datum": 33.1}
                  }
                },
                {
                  "data": {"name": "nodata"},
                  "mark": {"type": "rule", "color": "black", "strokeWidth": 3.5},
                  "encoding": {"x": {"field": "from", "type": "temporal", "axis": null}, "x2": {"field": "to"}, "y": {"datum": 29.8, "type": "quantitative"}}
                },
                {
                  "data": {"name": "nodata"},
                  "mark": {"type": "rule", "color": "black", "strokeWidth": 3.5},
                  "encoding": {"x": {"field": "from", "type": "temporal", "axis": null}, "y": {"datum": 19.4, "type": "quantitative"}, "y2": {"datum": 39.8}}
                },
                {
                  "data": {"name": "nodata"},
                  "mark": {"type": "rule", "color": "black", "strokeWidth": 3.5},
                  "encoding": {"x": {"field": "to", "type": "temporal", "axis": null}, "y": {"datum": 19.4, "type": "quantitative"}, "y2": {"datum": 39.8}}
                },
                {
                  "data": {"name": "months"},
                  "mark": {"type": "rule", "color": "black", "strokeWidth": 5, "strokeCap": "square"},
                  "encoding": {"x": {"field": "start", "type": "temporal", "axis": null}, "x2": {"field": "end"}, "y": {"datum": -10.8, "type": "quantitative"}}
                },
                {
                  "data": {"name": "months"},
                  "mark": {"type": "rule", "color": "black", "strokeWidth": 5, "strokeCap": "square"},
                  "encoding": {"x": {"field": "start", "type": "temporal", "axis": null}, "y": {"datum": -10.8, "type": "quantitative"}, "y2": {"datum": -30.8}}
                },
                {
                  "data": {"name": "months"},
                  "mark": {"type": "rule", "color": "black", "strokeWidth": 5, "strokeCap": "square"},
                  "encoding": {"x": {"field": "end", "type": "temporal", "axis": null}, "y": {"datum": -10.8, "type": "quantitative"}, "y2": {"datum": -30.8}}
                },
                {
                  "data": {"name": "months"},
                  "mark": {"type": "text", "fontSize": 54, "align": "center", "baseline": "alphabetic", "color": "black"},
                  "encoding": {"x": {"field": "mid", "type": "temporal", "axis": null}, "y": {"datum": -50.8, "type": "quantitative"}, "text": {"field": "m", "type": "nominal"}}
                }
              ]
            },
            {
              "data": {"name": "vpdIn"},
              "mark": {"type": "line", "color": "#6e6e6e", "strokeWidth": 2,
                "point": {"filled": true, "fill": "#5a5a5a", "stroke": "#333333", "strokeWidth": 0.8, "size": 40}},
              "encoding": {
                "x": {"field": "date", "type": "temporal", "axis": null},
                "y": {"field": "vpd", "type": "quantitative",
                  "scale": {"domain": [0, 32.1], "nice": false},
                  "axis": {"orient": "right", "values": [5, 10, 15, 20, 25, 30], "tickSize": -21, "labelPadding": 40,
                    "title": "Indoor air daily mean vapor pressure deficit (hPa)", "titleColor": "#0000ff",
                    "titleX": 122, "titleY": 498, "titleAngle": 270, "titleBaseline": "middle", "titleAlign": "center"}},
                "detail": {"field": "seg", "type": "nominal"}
              }
            },
            {
              "data": {"name": "vpdInSmooth"},
              "mark": {"type": "line", "color": "#0000ff", "strokeWidth": 6, "interpolate": "monotone"},
              "encoding": {
                "x": {"field": "date", "type": "temporal", "axis": null},
                "y": {"field": "vpd", "type": "quantitative", "scale": {"domain": [0, 32.1], "nice": false}, "axis": null},
                "detail": {"field": "seg", "type": "nominal"}
              }
            }
          ]
        }
      ]
    }
  ]
}
